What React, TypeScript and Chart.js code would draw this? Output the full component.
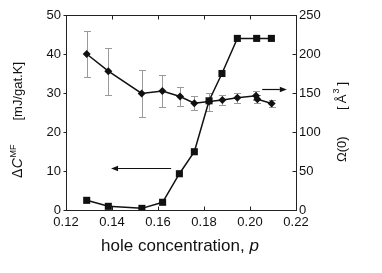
import React, { useEffect, useRef } from "react";
import { Chart, registerables } from "chart.js";

Chart.register(...registerables);

// Diamonds: ΔC^MF (left axis) with error bars
const dcP = [0.129, 0.1384, 0.1529, 0.1619, 0.1696, 0.1758, 0.1822, 0.188, 0.1945, 0.2026, 0.2032, 0.2094];
const dcVal = [40, 35.6, 29.9, 30.5, 29.1, 27.4, 27.8, 28.2, 28.8, 29.3, 28.4, 27.3];
const dcErr = [6, 6, 6, 4, 2.4, 1.8, 2.3, 1.3, 1.3, 1.2, 1.0, 1.0];

// Squares: Ω(0) (right axis)
const omP = [0.129, 0.1384, 0.153, 0.162, 0.1693, 0.1758, 0.1822, 0.1878, 0.1945, 0.2029, 0.2093];
const omVal = [12.4, 4.7, 2.1, 9.9, 46.5, 74.7, 140, 175, 220, 220, 220];

const xTicks = [0.12, 0.14, 0.16, 0.18, 0.2, 0.22];
const yLeftTicks = [0, 10, 20, 30, 40, 50];
const yRightTicks = [0, 50, 100, 150, 200, 250];

// Arrows (data coordinates)
const leftArrow = { from: 0.1657, to: 0.1396, y: 10.7 };
const rightArrow = { from: 0.2053, to: 0.216, y: 155.5 };

const FONT = "'Liberation Sans', Arial, Helvetica, sans-serif";

function drawArrow(ctx: CanvasRenderingContext2D, x1: number, x2: number, y: number) {
  const dir = Math.sign(x2 - x1);
  const head = 7;
  ctx.beginPath();
  ctx.moveTo(x1, y);
  ctx.lineTo(x2 - dir * head, y);
  ctx.stroke();
  ctx.beginPath();
  ctx.moveTo(x2, y);
  ctx.lineTo(x2 - dir * head, y - 2.8);
  ctx.lineTo(x2 - dir * head, y + 2.8);
  ctx.closePath();
  ctx.fill();
}

const decor = {
  id: "decor",
  beforeDatasetsDraw(chart: any) {
    const { ctx, chartArea: a, scales } = chart;
    const x = scales.x, yl = scales.y, yr = scales.y2;
    ctx.save();
    // error bars
    ctx.strokeStyle = "#9a9a9a";
    ctx.lineWidth = 1;
    dcP.forEach((p, i) => {
      const px = Math.round(x.getPixelForValue(p)) + 0.5;
      const top = Math.round(yl.getPixelForValue(dcVal[i] + dcErr[i])) + 0.5;
      const bot = Math.round(yl.getPixelForValue(dcVal[i] - dcErr[i])) + 0.5;
      ctx.beginPath();
      ctx.moveTo(px, top);
      ctx.lineTo(px, bot);
      ctx.moveTo(px - 3.5, top);
      ctx.lineTo(px + 3.5, top);
      ctx.moveTo(px - 3.5, bot);
      ctx.lineTo(px + 3.5, bot);
      ctx.stroke();
    });
    // frame
    const L = Math.floor(a.left) + 0.5, R = Math.floor(a.right) + 0.5;
    const T = Math.floor(a.top) + 0.5, B = Math.floor(a.bottom) + 0.5;
    ctx.strokeStyle = "#222";
    ctx.lineWidth = 1;
    ctx.strokeRect(L, T, R - L, B - T);
    ctx.beginPath();
    xTicks.forEach((v) => {
      const px = Math.round(x.getPixelForValue(v)) + 0.5;
      ctx.moveTo(px, B);
      ctx.lineTo(px, B - 4);
      ctx.moveTo(px, T);
      ctx.lineTo(px, T + 4);
    });
    yLeftTicks.forEach((v) => {
      const py = Math.round(yl.getPixelForValue(v)) + 0.5;
      ctx.moveTo(L, py);
      ctx.lineTo(L - 3, py);
    });
    yRightTicks.forEach((v) => {
      const py = Math.round(yr.getPixelForValue(v)) + 0.5;
      ctx.moveTo(R, py);
      ctx.lineTo(R - 4, py);
    });
    ctx.stroke();
    ctx.restore();
  },
  afterDatasetsDraw(chart: any) {
    const { ctx, chartArea: a, scales } = chart;
    const x = scales.x, yl = scales.y, yr = scales.y2;
    ctx.save();
    ctx.strokeStyle = "#111";
    ctx.fillStyle = "#111";
    ctx.lineWidth = 1.2;
    drawArrow(ctx, x.getPixelForValue(leftArrow.from), x.getPixelForValue(leftArrow.to), Math.round(yl.getPixelForValue(leftArrow.y)) + 0.5);
    drawArrow(ctx, x.getPixelForValue(rightArrow.from), x.getPixelForValue(rightArrow.to), Math.round(yr.getPixelForValue(rightArrow.y)) + 0.5);

    // x-axis title
    ctx.fillStyle = "#111";
    ctx.textBaseline = "alphabetic";
    const cx = (a.left + a.right) / 2 - 1;
    ctx.font = `17px ${FONT}`;
    const t1 = "hole concentration, ";
    const w1 = ctx.measureText(t1).width;
    ctx.font = `italic 17px ${FONT}`;
    const w2 = ctx.measureText("p").width;
    const sx = cx - (w1 + w2) / 2;
    ctx.font = `17px ${FONT}`;
    ctx.textAlign = "left";
    ctx.fillText(t1, sx, a.bottom + 41);
    ctx.font = `italic 17px ${FONT}`;
    ctx.fillText("p", sx + w1, a.bottom + 41);

    // left title (rotated)
    ctx.save();
    ctx.translate(22, 0);
    ctx.rotate(-Math.PI / 2);
    ctx.textAlign = "left";
    ctx.textBaseline = "alphabetic";
    let t = -(a.bottom - 32);
    ctx.font = `14px ${FONT}`;
    ctx.fillText("Δ", t, 0);
    t += ctx.measureText("Δ").width + 0.5;
    ctx.font = `italic 14px ${FONT}`;
    ctx.fillText("C", t, 0);
    t += ctx.measureText("C").width + 0.5;
    ctx.font = `9px ${FONT}`;
    ctx.fillText("MF", t, -6);
    ctx.font = `13px ${FONT}`;
    const br = "[mJ/gat.K]";
    const bw = ctx.measureText(br).width;
    ctx.fillText(br, -(a.top + 47) - bw, 0);
    ctx.restore();

    // right title (rotated)
    ctx.save();
    ctx.translate(346, 0);
    ctx.rotate(-Math.PI / 2);
    ctx.textAlign = "left";
    ctx.textBaseline = "alphabetic";
    let r = -(a.bottom - 48);
    ctx.font = `13px ${FONT}`;
    ctx.fillText("Ω(0)", r, 0);
    const endR = -(a.top + 67);
    ctx.font = `13px ${FONT}`;
    const wb1 = ctx.measureText("[").width;
    const wA = ctx.measureText("Å").width;
    const wb2 = ctx.measureText("]").width;
    ctx.font = `9px ${FONT}`;
    const w3 = ctx.measureText("3").width;
    const total = wb1 + 3 + wA + 1 + w3 + 3 + wb2;
    let s = endR - total;
    ctx.font = `13px ${FONT}`;
    ctx.fillText("[", s, 0);
    s += wb1 + 3;
    ctx.fillText("Å", s, 0);
    s += wA + 1;
    ctx.font = `9px ${FONT}`;
    ctx.fillText("3", s, -7);
    s += w3 + 3;
    ctx.font = `13px ${FONT}`;
    ctx.fillText("]", s, 0);
    ctx.restore();

    ctx.restore();
  },
};

export default function App() {
  const ref = useRef<HTMLCanvasElement | null>(null);
  useEffect(() => {
    if (!ref.current) return;
    const tickFont = { family: FONT, size: 13 };
    const chart = new Chart(ref.current, {
      type: "scatter",
      data: {
        datasets: [
          {
            label: "dC",
            data: dcP.map((p, i) => ({ x: p, y: dcVal[i] })),
            yAxisID: "y",
            showLine: true,
            borderColor: "#111",
            backgroundColor: "#111",
            borderWidth: 1.5,
            pointStyle: "rectRot",
            pointRadius: 4,
            pointBorderWidth: 0,
          },
          {
            label: "omega",
            data: omP.map((p, i) => ({ x: p, y: omVal[i] })),
            yAxisID: "y2",
            showLine: true,
            borderColor: "#111",
            backgroundColor: "#111",
            borderWidth: 1.5,
            pointStyle: "rect",
            pointRadius: 5,
            pointBorderWidth: 0,
          },
        ],
      },
      options: {
        animation: false,
        responsive: false,
        events: [],
        layout: { padding: { left: 8, top: 15, right: 0, bottom: 0 } },
        plugins: { legend: { display: false }, tooltip: { enabled: false }, title: { display: false } },
        scales: {
          x: {
            type: "linear",
            min: 0.12,
            max: 0.22,
            grid: { display: false, drawTicks: false },
            border: { display: false },
            afterBuildTicks: (s: any) => {
              s.ticks = xTicks.map((v) => ({ value: v }));
            },
            afterFit: (s: any) => {
              s.height = 63;
            },
            ticks: {
              font: tickFont,
              color: "#111",
              padding: 5,
              autoSkip: false,
              maxRotation: 0,
              callback: (v: any) => Number(v).toFixed(2),
            },
          },
          y: {
            type: "linear",
            position: "left",
            min: 0,
            max: 50,
            grid: { display: false, drawTicks: false },
            border: { display: false },
            afterBuildTicks: (s: any) => {
              s.ticks = yLeftTicks.map((v) => ({ value: v }));
            },
            afterFit: (s: any) => {
              s.width = 58;
            },
            ticks: { font: tickFont, color: "#111", padding: 5 },
          },
          y2: {
            type: "linear",
            position: "right",
            min: 0,
            max: 250,
            grid: { display: false, drawTicks: false },
            border: { display: false },
            afterBuildTicks: (s: any) => {
              s.ticks = yRightTicks.map((v) => ({ value: v }));
            },
            afterFit: (s: any) => {
              s.width = 86;
            },
            ticks: { font: tickFont, color: "#111", padding: 3 },
          },
        },
      },
      plugins: [decor],
    } as any);
    return () => chart.destroy();
  }, []);
  return (
    <div style={{ position: "fixed", left: 0, top: 0, width: 382, height: 273, background: "#fff" }}>
      <canvas ref={ref} width={382} height={273} />
    </div>
  );
}
